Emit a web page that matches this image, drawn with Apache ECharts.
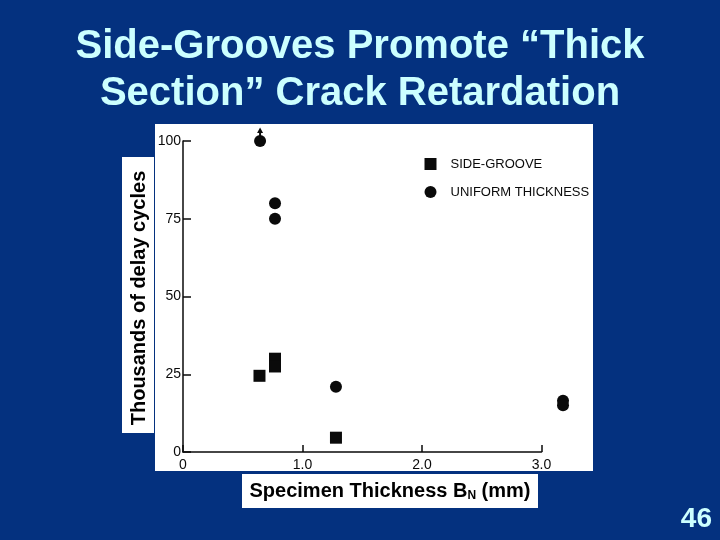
<!DOCTYPE html>
<html>
<head>
<meta charset="utf-8">
<script src="https://cdn.jsdelivr.net/npm/echarts@6/dist/echarts.min.js"></script>
<style>
  html, body { margin: 0; padding: 0; background: #04317f; }
  #main { width: 720px; height: 540px; }
</style>
</head>
<body>
<div id="main"></div>
<script>
// data
const xTicks = [0, 1, 2, 3]
const yTicks = [0, 25, 50, 75, 100]
const sideGroove = [[0.64, 24.5], [0.77, 30], [0.77, 27.5], [1.28, 4.6]]
const uniformThickness = [[0.645, 100], [0.77, 80], [0.77, 75], [1.28, 21], [3.18, 16.5], [3.18, 15]]
const runout = [[0.645, 102.6]] // arrow: did not retard further
const seriesNames = ['SIDE-GROOVE', 'UNIFORM THICKNESS']

const ink = '#0a0a0a'
const font = 'Liberation Sans, Arial, sans-serif'

const chart = echarts.init(document.getElementById('main'), null, { renderer: 'canvas' })

chart.setOption({
  backgroundColor: '#04317f',
  animation: false,
  title: {
    text: 'Side-Grooves Promote \u201cThick\nSection\u201d Crack Retardation',
    left: 'center',
    top: 18,
    textStyle: {
      color: '#ccffff',
      fontSize: 40,
      fontWeight: 'bold',
      fontFamily: font,
      lineHeight: 47
    }
  },
  graphic: [
    // white scanned figure area
    { type: 'rect', z: -1, shape: { x: 155, y: 124, width: 438, height: 347 }, style: { fill: '#fff' } },
    // y label box
    { type: 'rect', z: -1, shape: { x: 122, y: 157, width: 32, height: 276 }, style: { fill: '#fff' } },
    {
      type: 'text', x: 139, y: 298, rotation: Math.PI / 2,
      style: { text: 'Thousands of delay cycles', fill: '#000', font: 'bold 20px ' + font, align: 'center', verticalAlign: 'middle' }
    },
    // x label box
    { type: 'rect', z: -1, shape: { x: 242, y: 474, width: 296, height: 34 }, style: { fill: '#fff' } },
    {
      type: 'text', x: 390, y: 491,
      style: {
        text: '{a|Specimen Thickness B}{s|N}{a| (mm)}',
        align: 'center', verticalAlign: 'middle',
        rich: {
          a: { fill: '#000', font: 'bold 20px ' + font },
          s: { fill: '#000', font: 'bold 12px ' + font, padding: [10, 0, 0, 0] }
        }
      }
    },
    {
      type: 'text', x: 712, y: 519,
      style: { text: '46', fill: '#ccffff', font: 'bold 28px ' + font, align: 'right', verticalAlign: 'middle' }
    }
  ],
  legend: {
    data: seriesNames,
    orient: 'vertical',
    left: 419.5,
    top: 152,
    itemWidth: 12,
    itemHeight: 12,
    itemGap: 14,
    textStyle: { color: ink, fontSize: 13, fontFamily: font, lineHeight: 14, padding: [0, 0, 0, 9] }
  },
  grid: { left: 183, right: 178.5, top: 141, bottom: 88 },
  xAxis: {
    type: 'value',
    min: xTicks[0],
    max: xTicks[xTicks.length - 1],
    interval: 1,
    axisLine: { lineStyle: { color: ink, width: 1.5 } },
    axisTick: { inside: true, length: 7, lineStyle: { color: ink, width: 1.5 } },
    axisLabel: {
      margin: 6, color: ink, fontSize: 14, fontFamily: font,
      formatter: v => v === 0 ? '0' : v.toFixed(1)
    },
    splitLine: { show: false }
  },
  yAxis: {
    type: 'value',
    min: yTicks[0],
    max: yTicks[yTicks.length - 1],
    interval: 25,
    axisLine: { show: true, lineStyle: { color: ink, width: 1.5 } },
    axisTick: { show: true, inside: true, length: 8, lineStyle: { color: ink, width: 1.5 } },
    axisLabel: { margin: 2, color: ink, fontSize: 14, fontFamily: font },
    splitLine: { show: false }
  },
  series: [
    {
      name: seriesNames[0],
      type: 'scatter',
      symbol: 'rect',
      symbolSize: 12,
      clip: false,
      itemStyle: { color: ink, opacity: 1 },
      data: sideGroove
    },
    {
      name: seriesNames[1],
      type: 'scatter',
      symbol: 'circle',
      symbolSize: 12,
      clip: false,
      itemStyle: { color: ink, opacity: 1 },
      data: uniformThickness
    },
    {
      name: 'runout',
      type: 'scatter',
      symbol: 'path://M3,0 L6,6 L4,6 L4,12 L2,12 L2,6 L0,6 Z',
      symbolSize: [6, 11],
      clip: false,
      itemStyle: { color: ink, opacity: 1 },
      data: runout
    }
  ]
})
</script>
</body>
</html>
